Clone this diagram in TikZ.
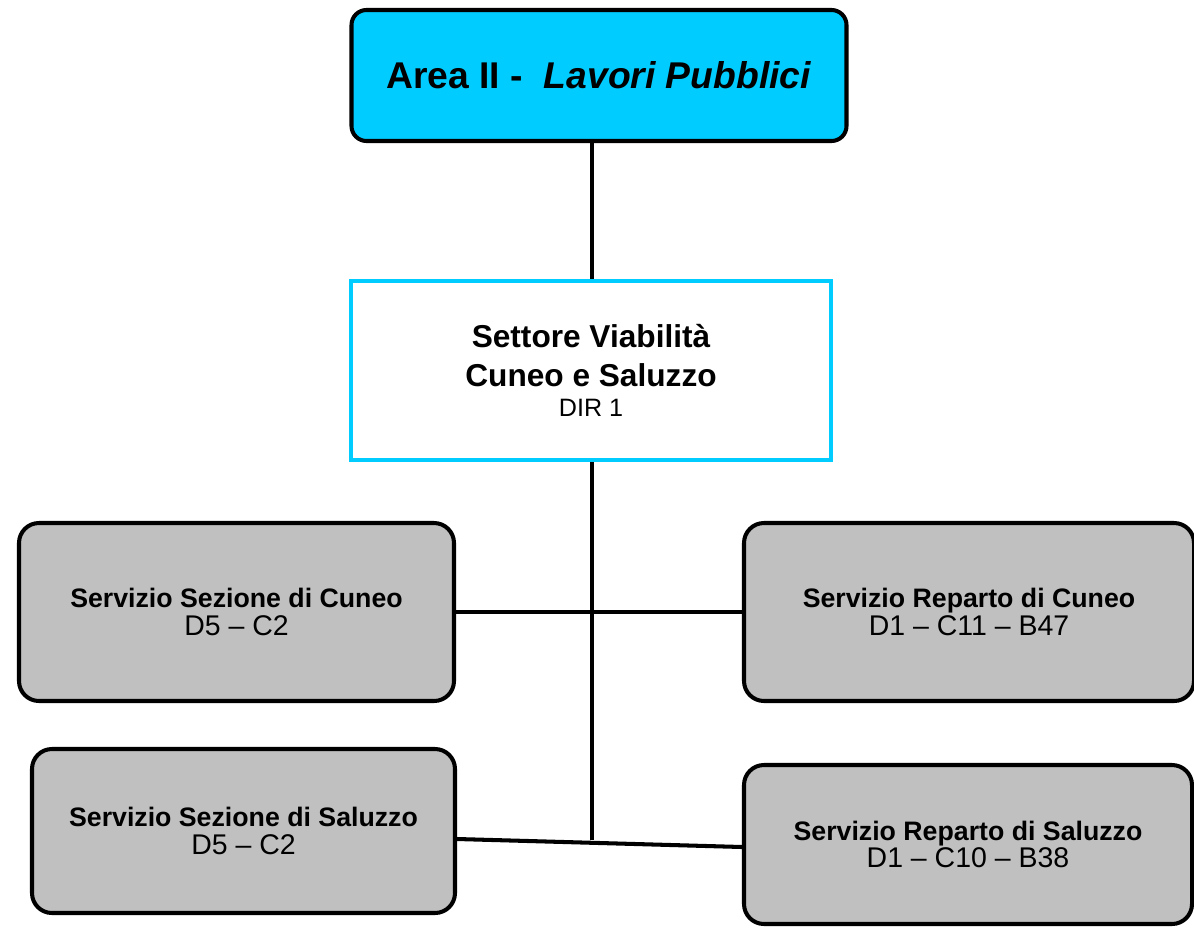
\documentclass[tikz,border=0pt]{standalone}
\usepackage{fontspec}
\setmainfont{Liberation Sans}
\usepackage{xcolor}
\usetikzlibrary{positioning}

\definecolor{areablue}{HTML}{00CCFF}
\definecolor{servgray}{HTML}{C0C0C0}

\begin{document}
\begin{tikzpicture}[
    link/.style={line width=2.3pt},
    areabox/.style={draw, line width=2.3pt, rounded corners=0.3cm, fill=areablue,
        minimum width=9.9cm, minimum height=2.62cm,
        font=\fontsize{21.2}{25}\selectfont\bfseries},
    settorebox/.style={draw=areablue, line width=2.3pt, fill=white,
        minimum width=9.6cm, minimum height=3.58cm, align=center,
        font=\fontsize{18}{22.2}\selectfont\bfseries},
    servbox/.style={draw, line width=2.3pt, rounded corners=0.4cm, fill=servgray,
        align=center, font=\fontsize{15.2}{15.5}\selectfont}
]
    \clip (0,0) rectangle (23.88,-18.56);

    % Area
    \node[areabox] (area) at (11.98,-1.51) {Area II -~~\textit{Lavori Pubblici}};

    % Settore
    \node[settorebox] (settore) at (11.82,-7.41)
        {Settore Viabilità\\Cuneo e Saluzzo\\[-5.5pt]
         {\normalfont\fontsize{14.3}{16}\selectfont DIR 1}};

    % Servizi
    \node[servbox, minimum width=8.7cm, minimum height=3.56cm] (sezC) at (4.73,-12.24)
        {\textbf{Servizio Sezione di Cuneo}\\{\fontsize{16.2}{15.5}\selectfont D5 -- C2}};
    \node[servbox, minimum width=9.0cm, minimum height=3.56cm] (repC) at (19.38,-12.24)
        {\textbf{Servizio Reparto di Cuneo}\\{\fontsize{16.2}{15.5}\selectfont D1 -- C11 -- B47}};
    \node[servbox, minimum width=8.46cm, minimum height=3.28cm] (sezS) at (4.87,-16.62)
        {\textbf{Servizio Sezione di Saluzzo}\\{\fontsize{16.2}{15.5}\selectfont D5 -- C2}};
    \node[servbox, minimum width=8.96cm, minimum height=3.18cm] (repS) at (19.36,-16.89)
        {\textbf{Servizio Reparto di Saluzzo}\\{\fontsize{16.2}{15.5}\selectfont D1 -- C10 -- B38}};

    \coordinate (junction) at (11.84,-16.8);

    % links
    \draw[link] (area.south -| 11.84,0) -- (settore.north -| 11.84,0);
    \draw[link] (settore.south -| 11.84,0) -- (junction);
    \draw[link] (sezC.east) -- (repC.west);
    \draw[link] ([yshift=-0.16cm]sezS.east) -- ([yshift=-0.05cm]repS.west);
\end{tikzpicture}
\end{document}
